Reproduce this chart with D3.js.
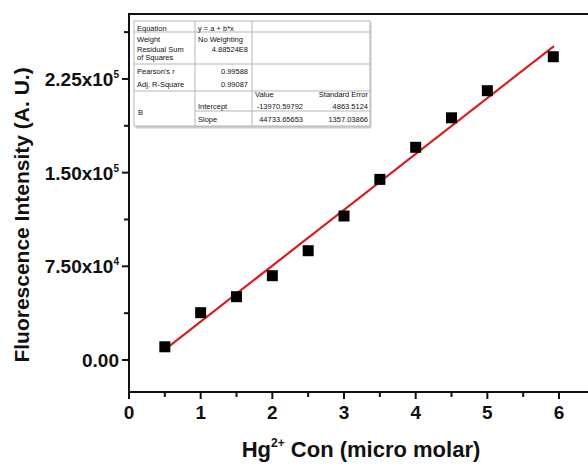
<!DOCTYPE html>
<html>
<head>
<meta charset="utf-8">
<script src="https://cdn.jsdelivr.net/npm/d3@7"></script>
<style>
  body { margin: 0; background: #fff; }
  svg text { font-family: "Liberation Sans", Arial, sans-serif; }
</style>
</head>
<body>
<div id="chart"></div>
<script>
// Hg2+ concentration (micro molar) and fluorescence intensity (A. U.)
var conc = [0.5, 1.0, 1.5, 2.0, 2.5, 3.0, 3.5, 4.0, 4.5, 5.0, 5.92],
    intensity = [10600, 37900, 50700, 67500, 87500, 115300, 144600, 170300, 193900, 215600, 242800],
    xTicks = [0, 1, 2, 3, 4, 5, 6],
    xMinor = [0.5, 1.5, 2.5, 3.5, 4.5, 5.5],
    yTicks = [0, 75000, 150000, 225000],
    yMinor = [37500, 112500, 187500, 262500],
    // linear fit from the table
    fitIntercept = -13970.59792,
    fitSlope = 44733.65653,
    fitRange = [0.5, 5.93];

var w = 588, h = 466,
    x0 = 129, y0 = 392, yTop = 14;

var svg = d3.select('#chart').append('svg')
    .attr('width', w)
    .attr('height', h);

var x = d3.scaleLinear().domain([0, 6.5]).range([x0, x0 + 6.5 * 71.67]);
var y = d3.scaleLinear().domain([-25600, 277000]).range([y0, yTop]);

// frame
svg.append('rect')
    .attr('x', x0).attr('y', yTop)
    .attr('width', x(6.5) - x0).attr('height', y0 - yTop)
    .attr('fill', 'none').attr('stroke', '#111').attr('stroke-width', 2);

// y ticks
function yLabel(sel, v) {
  if (v === 0) { sel.append('tspan').text('0.00'); return; }
  var e = Math.floor(Math.log10(v)), m = v / Math.pow(10, e);
  sel.append('tspan').text(m.toFixed(2) + 'x10');
  sel.append('tspan').attr('dy', -8).attr('font-size', 10).text(e);
}

var yt = svg.append('g');
yTicks.forEach(function(v) {
  yt.append('line').attr('x1', x0 - 7).attr('x2', x0).attr('y1', y(v)).attr('y2', y(v))
    .attr('stroke', '#111').attr('stroke-width', 2);
  var t = yt.append('text').attr('x', x0 - 10).attr('y', y(v) + 7)
    .attr('text-anchor', 'end').attr('font-size', 19).attr('font-weight', 'bold').attr('fill', '#111');
  yLabel(t, v);
});
yMinor.forEach(function(v) {
  yt.append('line').attr('x1', x0 - 5).attr('x2', x0).attr('y1', y(v)).attr('y2', y(v))
    .attr('stroke', '#111').attr('stroke-width', 2);
});

// x ticks
var xt = svg.append('g');
xTicks.forEach(function(v) {
  xt.append('line').attr('x1', x(v)).attr('x2', x(v)).attr('y1', y0).attr('y2', y0 + 7)
    .attr('stroke', '#111').attr('stroke-width', 2);
  xt.append('text').attr('x', x(v)).attr('y', y0 + 27)
    .attr('text-anchor', 'middle').attr('font-size', 19).attr('font-weight', 'bold').attr('fill', '#111')
    .text(v);
});
xMinor.forEach(function(v) {
  xt.append('line').attr('x1', x(v)).attr('x2', x(v)).attr('y1', y0).attr('y2', y0 + 5)
    .attr('stroke', '#111').attr('stroke-width', 2);
});

// axis titles
svg.append('text')
    .attr('transform', 'translate(29,' + 215 + ') rotate(-90)')
    .attr('text-anchor', 'middle').attr('font-size', 21).attr('font-weight', 'bold').attr('fill', '#111')
    .text('Fluorescence Intensity (A. U.)');

var xl = svg.append('text')
    .attr('x', 361).attr('y', 457)
    .attr('text-anchor', 'middle').attr('font-size', 22).attr('font-weight', 'bold').attr('fill', '#111');
xl.append('tspan').text('Hg');
xl.append('tspan').attr('dy', -10).attr('font-size', 12).text('2+');
xl.append('tspan').attr('dy', 10).text(' Con (micro molar)');

// fit line
svg.append('line')
    .attr('x1', x(fitRange[0])).attr('y1', y(fitIntercept + fitSlope * fitRange[0]))
    .attr('x2', x(fitRange[1])).attr('y2', y(fitIntercept + fitSlope * fitRange[1]))
    .attr('stroke', '#d81e1e').attr('stroke-width', 2.2);

// points
svg.selectAll('rect.pt')
    .data(d3.zip(conc, intensity))
  .enter().append('rect')
    .attr('class', 'pt')
    .attr('x', function(d){ return x(d[0]) - 5.5; })
    .attr('y', function(d){ return y(d[1]) - 5.5; })
    .attr('width', 11).attr('height', 11)
    .attr('fill', '#000');

// fit results table
var tb = svg.append('g').attr('font-size', 7.5).attr('fill', '#111');
tb.append('rect').attr('x', 135.5).attr('y', 22.5).attr('width', 236).attr('height', 106).attr('fill', '#ccc');
tb.append('rect').attr('x', 134).attr('y', 21).attr('width', 236).attr('height', 105)
    .attr('fill', '#fff').attr('stroke', '#b5b5b5').attr('stroke-width', 1);

[[32, 134], [64, 134], [91, 134], [111, 195]].forEach(function(l) {
  tb.append('line').attr('x1', l[1]).attr('x2', 370).attr('y1', l[0]).attr('y2', l[0])
    .attr('stroke', '#b5b5b5').attr('stroke-width', 1);
});
[195, 252].forEach(function(cx) {
  tb.append('line').attr('x1', cx).attr('x2', cx).attr('y1', 21).attr('y2', 126)
    .attr('stroke', '#b5b5b5').attr('stroke-width', 1);
});

var cells = [
  ['Equation', 137, 30.5, 'start'], ['y = a + b*x', 198, 30.5, 'start'],
  ['Weight', 137, 41.5, 'start'], ['No Weighting', 198, 41.5, 'start'],
  ['Residual Sum', 137, 51.5, 'start'], ['of Squares', 137, 60, 'start'], ['4.88524E8', 248, 51.5, 'end'],
  ["Pearson's r", 137, 73.5, 'start'], ['0.99588', 248, 73.5, 'end'],
  ['Adj. R-Square', 137, 86.5, 'start'], ['0.99087', 248, 86.5, 'end'],
  ['Value', 255, 97, 'start'], ['Standard Error', 368, 97, 'end'],
  ['B', 138, 114.5, 'start'],
  ['Intercept', 198, 108.5, 'start'], ['-13970.59792', 303, 108.5, 'end'], ['4863.5124', 368, 108.5, 'end'],
  ['Slope', 198, 121.5, 'start'], ['44733.65653', 303, 121.5, 'end'], ['1357.03866', 368, 121.5, 'end']
];
cells.forEach(function(c) {
  tb.append('text').attr('x', c[1]).attr('y', c[2]).attr('text-anchor', c[3]).text(c[0]);
});
</script>
</body>
</html>
